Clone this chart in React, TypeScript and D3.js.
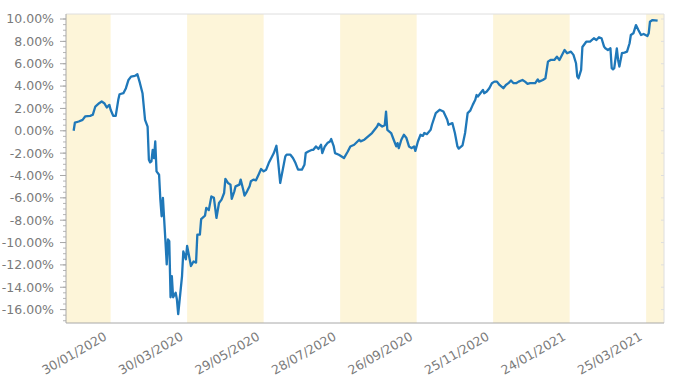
import React from "react";
import * as d3 from "d3";

const startDate = "2020-01-01";
const domainStart = "2019-12-26";
const domainEnd = "2021-04-08";

// day offset from startDate
const days = [
  0, 1, 4, 7, 9, 13, 15, 17, 20, 22, 24, 26, 28, 29, 31, 33, 35, 36, 39, 41, 43, 45, 48, 50, 52, 54, 56, 58, 59, 60,
  61, 62, 63, 64, 65, 67, 68, 69, 70, 71, 72, 73, 74, 75, 76, 77, 78, 80, 81, 82, 85, 86, 88, 89, 92, 94, 96, 97, 99, 100,
  103, 104, 106, 108, 110, 112, 114, 116, 118, 119, 121, 123, 124, 126, 127, 130, 131, 133, 134, 136, 138, 139, 141, 143, 145, 147, 149, 151, 153, 155,
  157, 159, 160, 162, 164, 166, 167, 170, 172, 174, 176, 179, 181, 182, 184, 187, 188, 190, 192, 194, 195, 197, 199, 201, 202, 204, 205, 208, 212, 215,
  217, 220, 224, 225, 228, 231, 234, 238, 239, 242, 244, 245, 246, 249, 251, 253, 254, 255, 257, 259, 261, 263, 265, 267, 268, 270, 272, 274, 275, 277,
  280, 281, 284, 287, 290, 293, 294, 297, 299, 301, 302, 305, 307, 309, 311, 313, 315, 316, 317, 319, 321, 322, 324, 326, 328, 330, 332, 334, 337, 339,
  341, 343, 345, 347, 349, 352, 354, 356, 358, 362, 364, 365, 368, 370, 372, 374, 377, 379, 381, 383, 385, 387, 390, 392, 394, 395, 396, 398, 399, 402,
  405, 408, 410, 412, 414, 416, 417, 419, 421, 422, 423, 424, 426, 427, 428, 430, 432, 434, 436, 437, 439, 441, 443, 445, 447, 450, 451, 452, 454, 458,
];

// cumulative return, %
const returns = [
  0.0, 0.74, 0.83, 0.98, 1.28, 1.34, 1.43, 2.17, 2.47, 2.62, 2.47, 2.08, 2.32, 1.88, 1.34, 1.34, 2.77, 3.27, 3.36, 3.81, 4.55, 4.85, 4.91, 5.06, 4.26, 3.36, 0.98, 0.38, -2.59, -2.83,
  -2.74, -1.7, -2.44, -0.96, -3.63, -3.93, -6.16, -7.65, -6.0, -7.95, -9.88, -11.96, -9.73, -9.88, -14.9, -13.0, -14.9, -14.5, -15.1, -16.4, -13.0, -10.8, -11.5, -10.3, -12.1, -11.7, -11.8, -9.3, -9.3, -7.9,
  -7.6, -6.9, -7.1, -5.87, -6.0, -7.8, -6.46, -6.16, -5.57, -4.3, -4.67, -4.82, -6.1, -5.42, -4.97, -4.82, -4.37, -5.27, -5.8, -5.42, -4.97, -4.52, -4.37, -4.43, -3.93, -3.42, -3.63, -3.48, -2.89, -2.44,
  -1.99, -1.34, -2.29, -4.67, -3.48, -2.29, -2.14, -2.14, -2.44, -2.89, -3.48, -3.48, -3.04, -1.99, -1.85, -1.7, -1.7, -1.4, -1.63, -1.25, -1.99, -1.4, -1.1, -0.96, -0.74, -1.4, -2.0, -2.14, -2.44, -1.85,
  -1.4, -1.25, -0.8, -0.95, -0.8, -0.5, -0.2, 0.38, 0.63, 0.38, 0.5, 1.72, 0.09, -0.2, -0.8, -1.4, -1.1, -1.55, -0.8, -0.36, -0.65, -1.4, -1.55, -1.4, -1.8, -0.96, -0.36, -0.45, -0.2, -0.3,
  0.09, 0.54, 1.58, 1.88, 1.72, 0.98, 0.54, 0.69, -0.2, -1.4, -1.6, -1.3, -0.2, 1.58, 1.8, 2.32, 2.77, 3.2, 3.06, 3.36, 3.66, 3.36, 3.51, 3.81, 4.26, 4.4, 4.4, 4.1, 3.81, 4.1,
  4.26, 4.5, 4.26, 4.26, 4.4, 4.55, 4.4, 4.2, 4.26, 4.26, 4.6, 4.4, 4.55, 4.7, 6.19, 6.34, 6.34, 6.63, 6.34, 6.79, 7.23, 6.94, 7.08, 6.79, 6.04, 4.85, 4.7, 5.45, 7.5, 7.97,
  7.97, 8.28, 8.12, 8.37, 8.28, 7.53, 7.38, 7.23, 7.38, 5.6, 5.5, 5.6, 7.38, 6.34, 5.74, 6.94, 7.0, 7.08, 7.83, 8.57, 8.72, 9.46, 9.0, 8.57, 8.66, 8.48, 8.72, 9.76, 9.91, 9.85,
];

const xTickLabels = ["30/01/2020", "30/03/2020", "29/05/2020", "28/07/2020", "26/09/2020", "25/11/2020", "24/01/2021", "25/03/2021"];
const yTicks = [-16, -14, -12, -10, -8, -6, -4, -2, 0, 2, 4, 6, 8, 10];
const yDomain = [-17.2, 10.45];

const W = 689;
const H = 385;
const M = { left: 66, right: 25, top: 14, bottom: 62 };

const parseIso = d3.timeParse("%Y-%m-%d");
const parseDmy = d3.timeParse("%d/%m/%Y");

export default function App() {
  const x = d3
    .scaleTime()
    .domain([parseIso(domainStart)!, parseIso(domainEnd)!])
    .range([M.left, W - M.right]);
  const y = d3.scaleLinear().domain(yDomain).range([H - M.bottom, M.top]);
  const start = parseIso(startDate)!;
  const pts = days.map((d, i) => ({ date: d3.timeDay.offset(start, d), v: returns[i] }));
  const line = d3
    .line<{ date: Date; v: number }>()
    .x((d) => x(d.date))
    .y((d) => y(d.v));

  const tickDates = xTickLabels.map((s) => parseDmy(s)!);
  const bounds = [x.domain()[0], ...tickDates, x.domain()[1]];
  const bands: { x0: number; x1: number }[] = [];
  for (let i = 0; i < bounds.length - 1; i += 2) {
    bands.push({ x0: x(bounds[i]), x1: x(bounds[i + 1]) });
  }
  const minor = d3.range(Math.ceil(yDomain[0] * 2) / 2, yDomain[1], 0.5);
  const fmt = (v: number) => `${v.toFixed(2)}%`;
  const x0 = M.left;
  const x1 = W - M.right;
  const yTop = M.top;
  const yBot = H - M.bottom;
  const font = "Verdana, 'DejaVu Sans', sans-serif";

  return (
    <svg width={W} height={H} style={{ position: "absolute", left: 0, top: 0, background: "#fff" }}>
      {bands.map((b, i) => (
        <rect key={i} x={b.x0} y={yTop} width={b.x1 - b.x0} height={yBot - yTop} fill="#fdf5d9" />
      ))}
      <line x1={x0} x2={x1} y1={yTop} y2={yTop} stroke="#dedede" />
      <line x1={x1} x2={x1} y1={yTop} y2={yBot} stroke="#dedede" />
      {yTicks.map((t) => (
        <line key={"r" + t} x1={x1 - 3} x2={x1} y1={y(t)} y2={y(t)} stroke="#dedede" />
      ))}
      {minor.map((t) => (
        <line key={"m" + t} x1={x0 - 3} x2={x0} y1={y(t)} y2={y(t)} stroke="#b5b5b5" />
      ))}
      {yTicks.map((t) => (
        <g key={"y" + t}>
          <line x1={x0 - 6} x2={x0} y1={y(t)} y2={y(t)} stroke="#a8a8a8" />
          <text x={x0 - 12} y={y(t)} dy="0.35em" textAnchor="end" fontSize={12.5} fill="#7a7a7a" fontFamily={font}>
            {fmt(t)}
          </text>
        </g>
      ))}
      <line x1={x0} x2={x0} y1={yTop} y2={yBot} stroke="#a8a8a8" />
      <line x1={x0} x2={x1} y1={yBot} y2={yBot} stroke="#a8a8a8" />
      {tickDates.map((d, i) => (
        <text
          key={"x" + i}
          transform={`translate(${x(d) - 3},${yBot + 16}) rotate(-30)`}
          textAnchor="end"
          fontSize={12.5}
          fill="#7a7a7a"
          fontFamily={font}
        >
          {xTickLabels[i]}
        </text>
      ))}
      <path d={line(pts)!} fill="none" stroke="#1f78b9" strokeWidth={2.3} strokeLinejoin="round" />
    </svg>
  );
}
